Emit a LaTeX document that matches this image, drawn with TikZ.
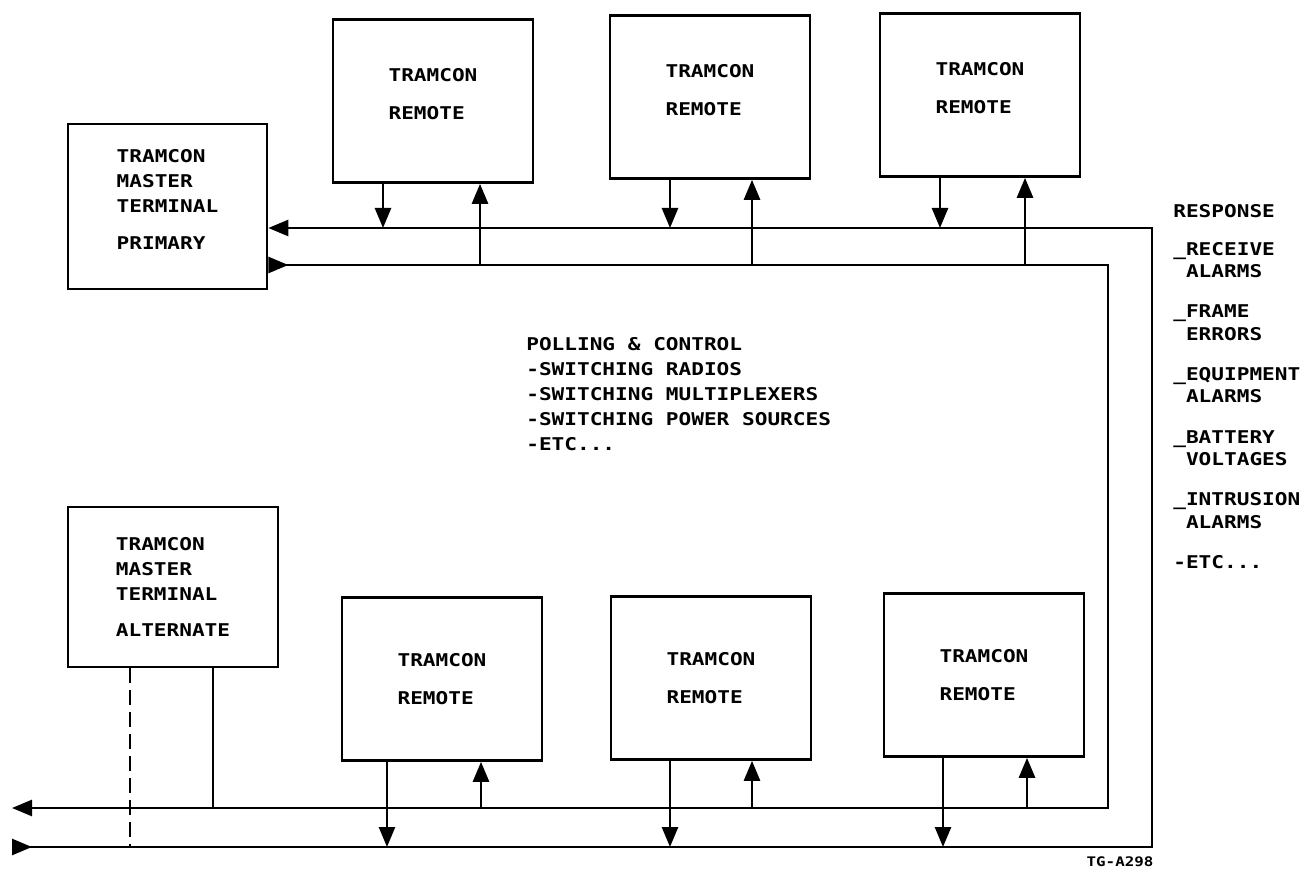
\documentclass[tikz,border=0pt]{standalone}
\usepackage{fontspec}
\setmonofont{DejaVu Sans Mono}[FakeStretch=1.2]
\usetikzlibrary{arrows.meta}
\tikzset{>={Triangle[length=4mm,width=3.2mm]}}
\tikzset{rt/.tip={Triangle[reversed,length=4mm,width=3.2mm]}}
\tikzset{
  plot font/.style={font=\fontsize{10}{14.2}\selectfont\ttfamily\bfseries},
  unit/.style={draw, plot font, align=left, inner sep=0pt, line width=1.5pt},
  remote/.style={unit, minimum width=40mm, minimum height=32.6mm},
  master/.style={unit, minimum height=33mm},
  bus/.style={line width=1.5pt},
  lbl/.style={plot font, align=left, inner sep=0pt}
}

\begin{document}
\begin{tikzpicture}[x=0.2mm,y=-0.2mm,line width=1.5pt]
  \useasboundingbox (0,0) rectangle (1305,869);

  % master terminals
  \node[master, minimum width=39.8mm] (mprim) at (167.5,206.5) {TRAMCON\\MASTER\\TERMINAL\\[6.8pt]PRIMARY\\[-6pt]};
  \node[master, minimum width=42mm, minimum height=32mm] (malt) at (173,587) {TRAMCON\\MASTER\\TERMINAL\\[6.8pt]ALTERNATE};

  % remotes, upper row
  \node[remote] (rem1) at (433,101) {TRAMCON\\[7.4pt]REMOTE\\[-6pt]};
  \node[remote] (rem2) at (710,97) {TRAMCON\\[7.4pt]REMOTE\\[-6pt]};
  \node[remote] (rem3) at (980,95) {TRAMCON\\[7.4pt]REMOTE\\[-6pt]};
  % remotes, lower row
  \node[remote] (rem4) at (442,679) {TRAMCON\\[7.4pt]REMOTE};
  \node[remote] (rem5) at (711,678) {TRAMCON\\[7.4pt]REMOTE};
  \node[remote] (rem6) at (984,675) {TRAMCON\\[7.4pt]REMOTE};

  % bus corners
  \coordinate (ra) at (1152,228);
  \coordinate (rb) at (1152,847);
  \coordinate (pa) at (1108,265);
  \coordinate (pb) at (1108,808);
  \coordinate (outl) at (12,808);
  \coordinate (inl) at (12,847);

  % polling loop and response loop
  \draw[bus,rt->] (mprim.east |- pa) -- (pa) -- (pb) -- (outl);
  \draw[bus,rt->] (inl) -- (rb) -- (ra) -- (mprim.east |- ra);

  % upper remotes on the buses
  \draw[->] (383,0 |- rem1.south) -- (383,0 |- ra);
  \draw[->] (480,0 |- pa) -- (480,0 |- rem1.south);
  \draw[->] (670,0 |- rem2.south) -- (670,0 |- ra);
  \draw[->] (752,0 |- pa) -- (752,0 |- rem2.south);
  \draw[->] (940,0 |- rem3.south) -- (940,0 |- ra);
  \draw[->] (1025,0 |- pa) -- (1025,0 |- rem3.south);

  % lower remotes on the buses
  \draw[->] (387,0 |- rem4.south) -- (387,0 |- rb);
  \draw[->] (481,0 |- pb) -- (481,0 |- rem4.south);
  \draw[->] (670,0 |- rem5.south) -- (670,0 |- rb);
  \draw[->] (752,0 |- pb) -- (752,0 |- rem5.south);
  \draw[->] (943,0 |- rem6.south) -- (943,0 |- rb);
  \draw[->] (1027,0 |- pb) -- (1027,0 |- rem6.south);

  % alternate master taps
  \draw (213,0 |- malt.south) -- (213,0 |- pb);
  \draw[dash pattern=on 3mm off 1.4mm] (130,0 |- malt.south) -- (130,0 |- rb);

  % notes
  \node[lbl, anchor=north west] (poll) at (525,336) {POLLING \& CONTROL\\-SWITCHING RADIOS\\-SWITCHING MULTIPLEXERS\\-SWITCHING POWER SOURCES\\-ETC...};
  \node[lbl, anchor=north west, font=\fontsize{10}{12.8}\selectfont\ttfamily\bfseries] (resp) at (1172,203)
    {RESPONSE\\[8.8pt]\_RECEIVE\\\hphantom{\_}ALARMS\\[10pt]\_FRAME\\\hphantom{\_}ERRORS\\[10pt]\_EQUIPMENT\\\hphantom{\_}ALARMS\\[10pt]\_BATTERY\\\hphantom{\_}VOLTAGES\\[10pt]\_INTRUSION\\\hphantom{\_}ALARMS\\[10pt]-ETC...};
  \node[font=\fontsize{7.5}{9}\selectfont\ttfamily\bfseries] (tag) at (1120,862) {TG-A298};
\end{tikzpicture}
\end{document}
